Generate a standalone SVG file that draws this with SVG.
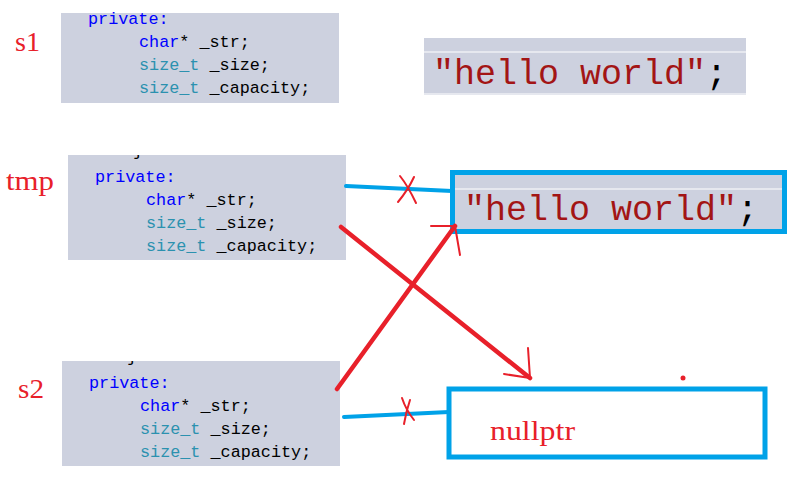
<svg xmlns="http://www.w3.org/2000/svg" width="804" height="483" viewBox="0 0 804 483">
<defs>
<clipPath id="cTmp"><rect x="68" y="155" width="278" height="105"/></clipPath>
<clipPath id="cS2"><rect x="62" y="361" width="278" height="105"/></clipPath>
</defs>
<style>
.bg{fill:#cdd1df}
.code{font-family:"Liberation Mono","DejaVu Sans Mono",monospace;font-size:16.8px;fill:#000}
.kw{fill:#0000ff}
.ty{fill:#2b91af}
.lbl{font-family:"Liberation Serif","DejaVu Serif",serif;font-size:28px;fill:#e8202a}
.str{font-family:"Liberation Mono","DejaVu Sans Mono",monospace;font-size:35px;fill:#a31515}
.semi{fill:#000}
.blue{fill:none;stroke:#00a2e8;stroke-width:5}
.bl{stroke:#00a2e8;stroke-width:4;stroke-linecap:round;fill:none}
.red{stroke:#e8202a;stroke-width:4.5;stroke-linecap:round;fill:none}
.thin{stroke:#e8202a;stroke-width:2;stroke-linecap:round;fill:none}
</style>
<rect width="804" height="483" fill="#fff"/>

<g id="s1">
<text class="lbl" x="15" y="51" textLength="25" lengthAdjust="spacingAndGlyphs">s1</text>
<rect class="bg" x="61" y="13" width="278" height="90"/>
<text class="code kw" x="88" y="24">private:</text>
<text class="code" x="139" y="47"><tspan class="kw">char</tspan>* _str;</text>
<text class="code" x="139" y="70"><tspan class="ty">size_t</tspan> _size;</text>
<text class="code" x="139" y="93"><tspan class="ty">size_t</tspan> _capacity;</text>
</g>

<g id="str1">
<rect class="bg" x="424" y="38" width="322" height="56"/>
<rect x="424" y="51" width="322" height="2" fill="#e6e8ef"/>
<rect x="424" y="93" width="322" height="2" fill="#e6e8ef"/>
<text class="str" x="433" y="84">"hello world"<tspan class="semi">;</tspan></text>
</g>

<g id="tmp">
<text class="lbl" x="6" y="190" textLength="48" lengthAdjust="spacingAndGlyphs">tmp</text>
<rect class="bg" x="68" y="155" width="278" height="105"/>
<text class="code" x="133" y="156" clip-path="url(#cTmp)">}</text>
<text class="code kw" x="95" y="182">private:</text>
<text class="code" x="146" y="205"><tspan class="kw">char</tspan>* _str;</text>
<text class="code" x="146" y="228"><tspan class="ty">size_t</tspan> _size;</text>
<text class="code" x="146" y="251"><tspan class="ty">size_t</tspan> _capacity;</text>
</g>

<g id="str2">
<rect class="bg" x="453" y="173" width="331" height="58"/>
<rect x="453" y="188" width="331" height="2" fill="#e6e8ef"/>
<text class="str" x="464" y="220">"hello world"<tspan class="semi">;</tspan></text>
<rect class="blue" x="452.5" y="172.5" width="332" height="59"/>
</g>

<g id="s2">
<text class="lbl" x="18" y="398" textLength="26" lengthAdjust="spacingAndGlyphs">s2</text>
<rect class="bg" x="62" y="361" width="278" height="105"/>
<text class="code" x="127" y="362" clip-path="url(#cS2)">}</text>
<text class="code kw" x="89" y="388">private:</text>
<text class="code" x="140" y="411"><tspan class="kw">char</tspan>* _str;</text>
<text class="code" x="140" y="434"><tspan class="ty">size_t</tspan> _size;</text>
<text class="code" x="140" y="457"><tspan class="ty">size_t</tspan> _capacity;</text>
</g>

<g id="null">
<rect class="blue" x="449" y="389" width="316" height="68"/>
<text class="lbl" x="490" y="440" textLength="85" lengthAdjust="spacingAndGlyphs">nullptr</text>
<circle cx="683" cy="378" r="2.5" fill="#e8202a"/>
</g>

<g id="connectors">
<path class="bl" d="M346 186 L452 191"/>
<path class="thin" d="M400 176 Q408 186 416 203 M414 177 Q408 190 398 202"/>
<path class="bl" d="M344 417 L449 412"/>
<path class="thin" d="M402 398 Q406 410 414 420 M410 400 Q406 412 404 424"/>
<path class="red" d="M341 227 L530 378"/>
<path class="thin" d="M530 378 L528 348 M530 378 L504 374"/>
<path class="red" d="M337 389 L455 226"/>
<path class="thin" d="M455 226 L431 226 M455 226 L460 255"/>
</g>
</svg>
